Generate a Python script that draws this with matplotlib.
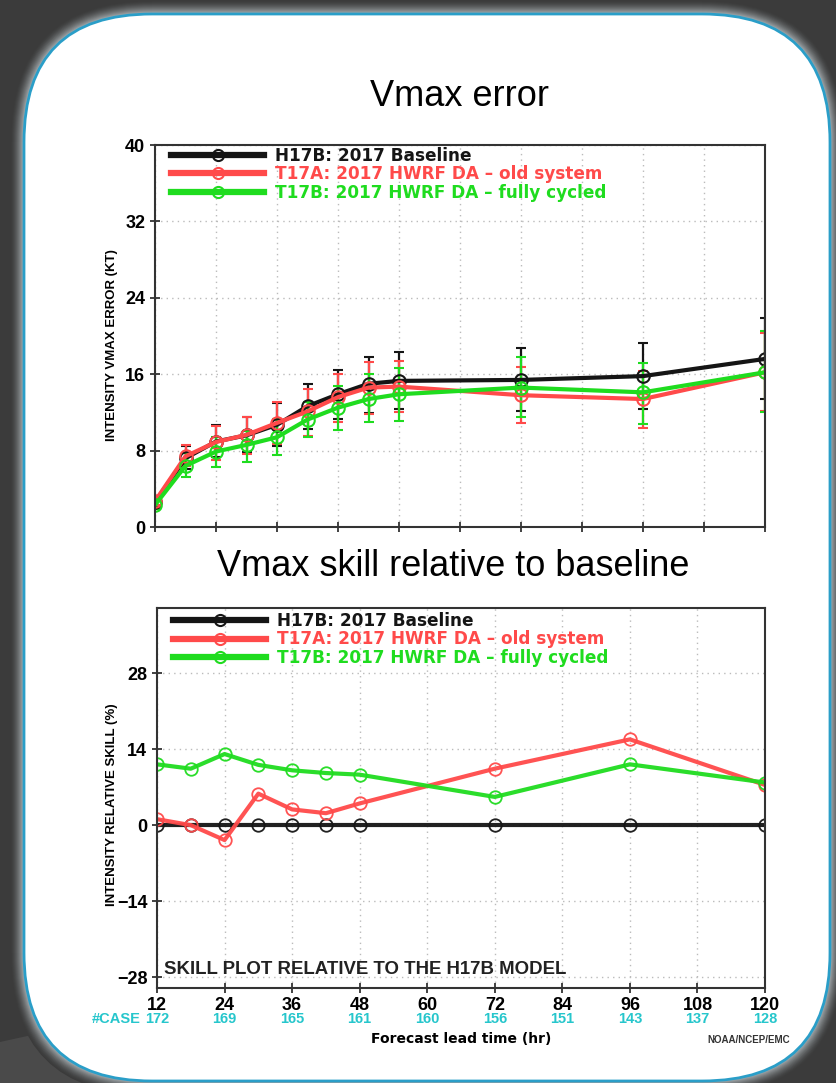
import matplotlib
matplotlib.use("Agg")
import matplotlib.pyplot as plt
from matplotlib.patches import FancyBboxPatch, Polygon
from matplotlib.lines import Line2D
import matplotlib.colors as mcolors
import numpy as np

# ---------------- data ----------------
hours_err = [0, 6, 12, 18, 24, 30, 36, 42, 48, 72, 96, 120]
h17b_err = [2.6, 7.2, 8.95, 9.6, 10.7, 12.65, 13.9, 15.0, 15.3, 15.4, 15.8, 17.6]
t17a_err = [2.7, 7.4, 8.9, 9.65, 10.9, 12.1, 13.6, 14.6, 14.7, 13.8, 13.4, 16.2]
t17b_err = [2.3, 6.4, 7.9, 8.6, 9.4, 11.25, 12.5, 13.4, 13.9, 14.6, 14.1, 16.2]

h17b_hi = [3.0, 8.5, 10.7, 11.5, 13.0, 15.0, 16.4, 17.8, 18.3, 18.7, 19.3, 21.9]
h17b_lo = [2.2, 6.1, 7.3, 7.9, 8.5, 10.3, 11.3, 11.9, 12.4, 12.1, 12.4, 13.4]
t17a_hi = [3.1, 8.6, 10.6, 11.5, 13.1, 14.4, 16.0, 17.3, 17.4, 16.8, 16.3, 20.3]
t17a_lo = [2.3, 6.4, 7.0, 7.6, 8.7, 9.5, 11.0, 11.8, 12.0, 10.9, 10.4, 12.1]
t17b_hi = [2.7, 7.7, 9.4, 10.1, 11.3, 13.1, 14.8, 16.0, 16.7, 17.8, 17.2, 20.5]
t17b_lo = [1.9, 5.2, 6.3, 6.8, 7.5, 9.4, 10.2, 11.0, 11.15, 11.5, 10.8, 12.0]

hours_skill = [12, 18, 24, 30, 36, 42, 48, 72, 96, 120]
h17b_skill = [0, 0, 0, 0, 0, 0, 0, 0, 0, 0]
t17a_skill = [1.1, 0.0, -2.75, 5.8, 2.9, 2.2, 4.0, 10.4, 15.8, 7.4]
t17b_skill = [11.2, 10.4, 13.1, 11.1, 10.1, 9.6, 9.3, 5.2, 11.2, 7.85]

case_hours = [12, 24, 36, 48, 60, 72, 84, 96, 108, 120]
case_counts = [172, 169, 165, 161, 160, 156, 151, 143, 137, 128]

labels = ["H17B: 2017 Baseline",
          "T17A: 2017 HWRF DA \u2013 old system",
          "T17B: 2017 HWRF DA \u2013 fully cycled"]

BLACK = "#151515"
RED = "#ff4a4a"
GREEN = "#1fdc1f"
CYAN = "#26c6cc"

W, H = 836, 1083
fig = plt.figure(figsize=(W / 100, H / 100), dpi=100)
fig.patch.set_facecolor("#3b3b3b")

# ---------------- slide background ----------------
bg = fig.add_axes([0, 0, 1, 1], zorder=-10)
bg.set_xlim(0, W)
bg.set_ylim(H, 0)
bg.axis("off")
bg.add_patch(Polygon([(0, 1042), (260, 985), (260, H), (0, H)], closed=True,
                     facecolor="#4a4a4a", edgecolor="none"))
bg.add_patch(Polygon([(684, 0), (700, 0), (712, 20), (696, 20)], closed=True,
                     facecolor="#4c4c4c", edgecolor="none"))
c_out = np.array(mcolors.to_rgb("#3b3b3b"))
c_in = np.array(mcolors.to_rgb("#b4bcc0"))
NG = 14
for grow in range(NG, 0, -1):
    t = (1 - grow / NG) ** 1.6
    col = tuple(c_out + (c_in - c_out) * t)
    bg.add_patch(FancyBboxPatch((24 - grow, 14 - grow), 806 + 2 * grow, 1067 + 2 * grow,
                                boxstyle="round,pad=0,rounding_size=%d" % (128 + grow),
                                facecolor=col, edgecolor="none"))
bg.add_patch(FancyBboxPatch((24, 14), 806, 1067,
                            boxstyle="round,pad=0,rounding_size=128",
                            facecolor="white", edgecolor="#2a9ec8", linewidth=2))

NARROW = ["Liberation Sans Narrow", "Liberation Sans", "DejaVu Sans"]
WIDE = ["DejaVu Sans"]


def style_axes(ax):
    for s in ax.spines.values():
        s.set_color("#333333")
        s.set_linewidth(1.5)
    ax.grid(True, linestyle=(0, (1, 3)), color="#bbbbbb", linewidth=1.0)
    ax.tick_params(direction="inout", length=7, width=1.3, color="#333333",
                   labelsize=13)
    for lab in ax.get_yticklabels() + ax.get_xticklabels():
        lab.set_family(NARROW)
        lab.set_fontweight("bold")


def add_legend(ax, colors, width_px, top):
    handles = [Line2D([], [], color=c, linewidth=4.5, marker="o", markersize=8,
                      markerfacecolor="none", markeredgewidth=1.5)
               for c in colors]
    leg = ax.legend(handles, labels, loc="upper left", frameon=False,
                    bbox_to_anchor=(16 / width_px, top),
                    handlelength=5.5, handletextpad=0.65, labelspacing=0.04,
                    borderaxespad=0.0, borderpad=0.0,
                    prop={"family": WIDE, "weight": "bold", "size": 12.2})
    for c, text in zip(colors, leg.get_texts()):
        text.set_color(c)


# ---------------- top chart: Vmax error ----------------
ax1 = fig.add_axes([155 / W, 1 - 527 / H, 610 / W, 382 / H])
series = [(h17b_err, h17b_lo, h17b_hi, BLACK),
          (t17a_err, t17a_lo, t17a_hi, RED),
          (t17b_err, t17b_lo, t17b_hi, GREEN)]
for (vals, lo, hi, col), lab in zip(series, labels):
    vals_a = np.array(vals)
    yerr = [vals_a - np.array(lo), np.array(hi) - vals_a]
    ax1.errorbar(hours_err, vals, yerr=yerr, color=col, linewidth=3,
                 elinewidth=1.6, capsize=3.5, capthick=1.6,
                 marker="o", markersize=9, markerfacecolor="none",
                 markeredgewidth=1.5, label=lab)
ax1.set_xlim(0, 120)
ax1.set_ylim(0, 40)
ax1.set_xticks(np.arange(0, 121, 12))
ax1.set_xticklabels([])
ax1.set_yticks([0, 8, 16, 24, 32, 40])
style_axes(ax1)
ax1.set_ylabel("INTENSITY VMAX ERROR (KT)", family=NARROW, fontsize=9.5,
               fontweight="bold")
ax1.yaxis.set_label_coords(-37 / 610, 0.476)
add_legend(ax1, [BLACK, RED, GREEN], 610, 0.996)

# ---------------- bottom chart: skill ----------------
ax2 = fig.add_axes([157 / W, 1 - 988 / H, 608 / W, 380 / H])
for vals, col, lab in [(h17b_skill, BLACK, labels[0]),
                       (t17a_skill, RED, labels[1]),
                       (t17b_skill, GREEN, labels[2])]:
    ax2.plot(hours_skill, vals, color=col, linewidth=3, marker="o",
             markersize=9, markerfacecolor="none", markeredgewidth=1.3,
             markeredgecolor=col, label=lab, alpha=0.95)
ax2.set_xlim(12, 120)
ax2.set_ylim(-30, 40)
ax2.set_xticks(np.arange(12, 121, 12))
ax2.set_yticks([-28, -14, 0, 14, 28])
ax2.set_yticklabels(["\u221228", "\u221214", "0", "14", "28"])
style_axes(ax2)
ax2.tick_params(axis="x", pad=3)
ax2.set_ylabel("INTENSITY RELATIVE SKILL (%)", family=NARROW, fontsize=9.5,
               fontweight="bold")
ax2.yaxis.set_label_coords(-39 / 608, 0.482)
add_legend(ax2, [BLACK, RED, GREEN], 608, 0.99)
ax2.text(0.012, 0.05, "SKILL PLOT RELATIVE TO THE H17B MODEL",
         transform=ax2.transAxes, family=NARROW, fontsize=13.4,
         fontweight="bold", color="#222222", va="center", ha="left")

# case counts under x ticks
for hr, n in zip(case_hours, case_counts):
    ax2.annotate(str(n), xy=(hr, 0), xycoords=("data", "axes fraction"),
                 xytext=(0, -22.5), textcoords="offset points", ha="center",
                 va="center", family=NARROW, fontweight="bold", fontsize=10.5,
                 color=CYAN)
ax2.annotate("#CASE", xy=(12, 0), xycoords=("data", "axes fraction"),
             xytext=(-12, -22.5), textcoords="offset points", ha="right",
             va="center", family=NARROW, fontweight="bold", fontsize=10.5,
             color=CYAN)
ax2.set_xlabel("Forecast lead time (hr)", family=WIDE, fontweight="bold",
               fontsize=10, labelpad=13)

fig.text(790 / W, 1 - 1040 / H, "NOAA/NCEP/EMC", ha="right", va="center",
         family=NARROW, fontsize=7, fontweight="bold", color="#333333")

# ---------------- slide titles ----------------
fig.text(460 / W, 1 - 97 / H, "Vmax error", ha="center", va="center",
         family=["Liberation Sans", "DejaVu Sans"], fontsize=26)
fig.text(453 / W, 1 - 566 / H, "Vmax skill relative to baseline", ha="center",
         va="center", family=["Liberation Sans", "DejaVu Sans"], fontsize=26)

fig.savefig("out.png", dpi=100, facecolor=fig.get_facecolor())
